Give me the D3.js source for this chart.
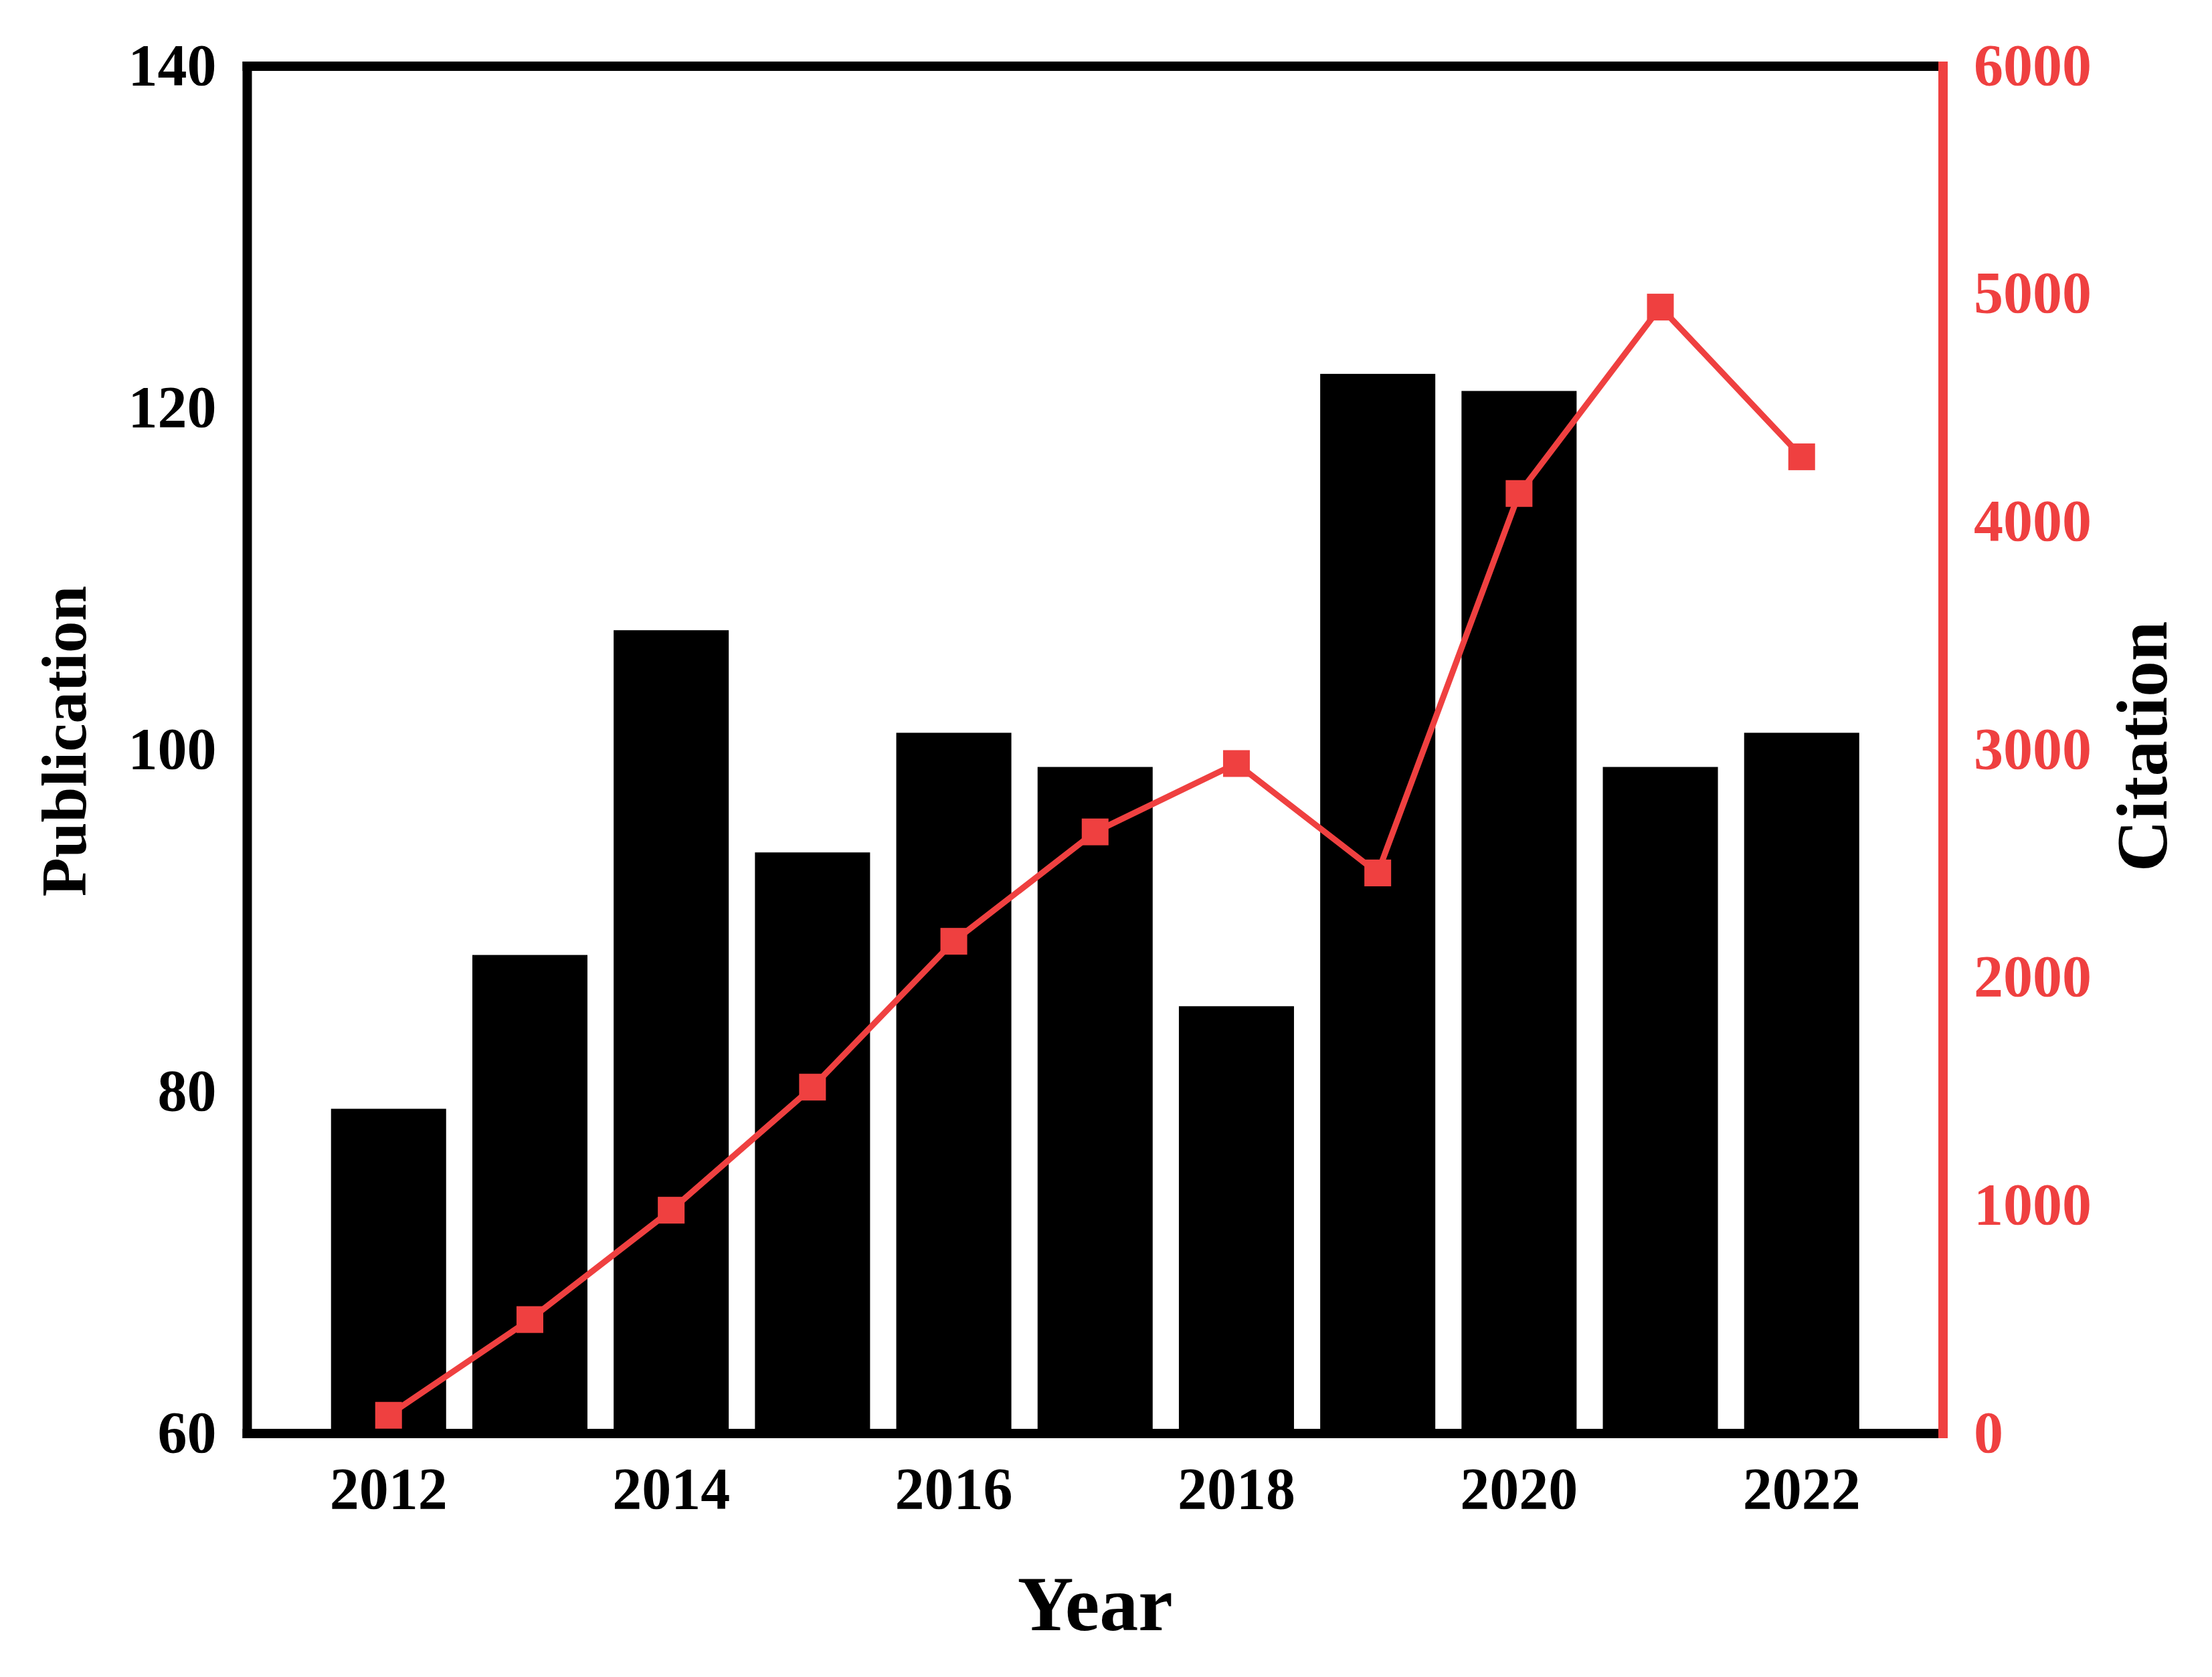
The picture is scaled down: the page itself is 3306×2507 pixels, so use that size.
<!DOCTYPE html>
<html>
<head>
<meta charset="utf-8">
<script src="https://cdn.jsdelivr.net/npm/d3@7"></script>
<style>
  html, body { margin: 0; padding: 0; background: #fff; }
  svg { display: block; }
  text { font-family: "Liberation Serif", "Times New Roman", serif; font-weight: bold; }
</style>
</head>
<body>
<script>
const years = [2012, 2013, 2014, 2015, 2016, 2017, 2018, 2019, 2020, 2021, 2022];
const publications = [79, 88, 107, 94, 101, 99, 85, 122, 121, 99, 101];
const citations = [80, 500, 980, 1520, 2160, 2640, 2940, 2460, 4125, 4943, 4286];
const xTickYears = [2012, 2014, 2016, 2018, 2020, 2022];
const leftTicks = [60, 80, 100, 120, 140];
const rightTicks = [0, 1000, 2000, 3000, 4000, 5000, 6000];

const W = 3306, H = 2507;
const L = 369.5, R = 2904, T = 99, B = 2143;
const RED = "#EF4040";

const svg = d3.select("body").append("svg").attr("width", W).attr("height", H);

const x = d3.scaleBand().domain(years).range([L, R]).paddingInner(0.1855).paddingOuter(0.593);
const yL = d3.scaleLinear().domain([60, 140]).range([B, T]);
const yR = d3.scaleLinear().domain([0, 6000]).range([B, T]);

// bars
svg.append("g").selectAll("rect").data(years).join("rect")
  .attr("x", d => x(d))
  .attr("width", x.bandwidth())
  .attr("y", (d, i) => yL(publications[i]))
  .attr("height", (d, i) => B - yL(publications[i]))
  .attr("fill", "#000");

// line
const pts = years.map((d, i) => [x(d) + x.bandwidth() / 2, yR(citations[i])]);
svg.append("path").datum(pts)
  .attr("d", d3.line())
  .attr("fill", "none").attr("stroke", RED).attr("stroke-width", 9)
  .attr("stroke-linejoin", "miter");

const ms = 40;
svg.append("g").selectAll("rect").data(pts).join("rect")
  .attr("x", d => d[0] - ms / 2).attr("y", d => d[1] - ms / 2)
  .attr("width", ms).attr("height", ms).attr("fill", RED);

// frame
const fw = 14;
svg.append("line").attr("x1", L - fw/2).attr("x2", R).attr("y1", T).attr("y2", T).attr("stroke", "#000").attr("stroke-width", fw);
svg.append("line").attr("x1", L - fw/2).attr("x2", R).attr("y1", B).attr("y2", B).attr("stroke", "#000").attr("stroke-width", fw);
svg.append("line").attr("x1", L).attr("x2", L).attr("y1", T - fw/2).attr("y2", B + fw/2).attr("stroke", "#000").attr("stroke-width", fw);
svg.append("line").attr("x1", R).attr("x2", R).attr("y1", T - fw/2).attr("y2", B + fw/2).attr("stroke", RED).attr("stroke-width", fw);

// left axis
const gL = svg.append("g").attr("transform", `translate(${L},0)`)
  .call(d3.axisLeft(yL).tickValues(leftTicks).tickSize(0).tickPadding(46).tickFormat(d3.format("d")));
gL.select(".domain").remove();
gL.selectAll("text").attr("font-size", 88).attr("fill", "#000")
  .attr("font-family", "Liberation Serif").attr("font-weight", "bold").attr("dy", "0.31em");

// right axis
const gR = svg.append("g").attr("transform", `translate(${R},0)`)
  .call(d3.axisRight(yR).tickValues(rightTicks).tickSize(0).tickPadding(46).tickFormat(d3.format("d")));
gR.select(".domain").remove();
gR.selectAll("text").attr("font-size", 88).attr("fill", RED)
  .attr("font-family", "Liberation Serif").attr("font-weight", "bold").attr("dy", "0.31em");

// bottom axis
const gB = svg.append("g").attr("transform", `translate(0,${B})`)
  .call(d3.axisBottom(x).tickValues(xTickYears).tickSize(0).tickPadding(50));
gB.select(".domain").remove();
gB.selectAll("text").attr("font-size", 88).attr("fill", "#000")
  .attr("font-family", "Liberation Serif").attr("font-weight", "bold").attr("dy", "0.71em");

// titles
svg.append("text").attr("x", (L + R) / 2).attr("y", 2437)
  .attr("text-anchor", "middle").attr("font-size", 116).attr("fill", "#000").text("Year");
svg.append("text").attr("transform", "translate(128,1108) rotate(-90)")
  .attr("text-anchor", "middle").attr("font-size", 95).attr("fill", "#000").text("Publication");
svg.append("text").attr("transform", "translate(3238,1116) rotate(-90)")
  .attr("text-anchor", "middle").attr("font-size", 107).attr("fill", "#000").text("Citation");
</script>
</body>
</html>
